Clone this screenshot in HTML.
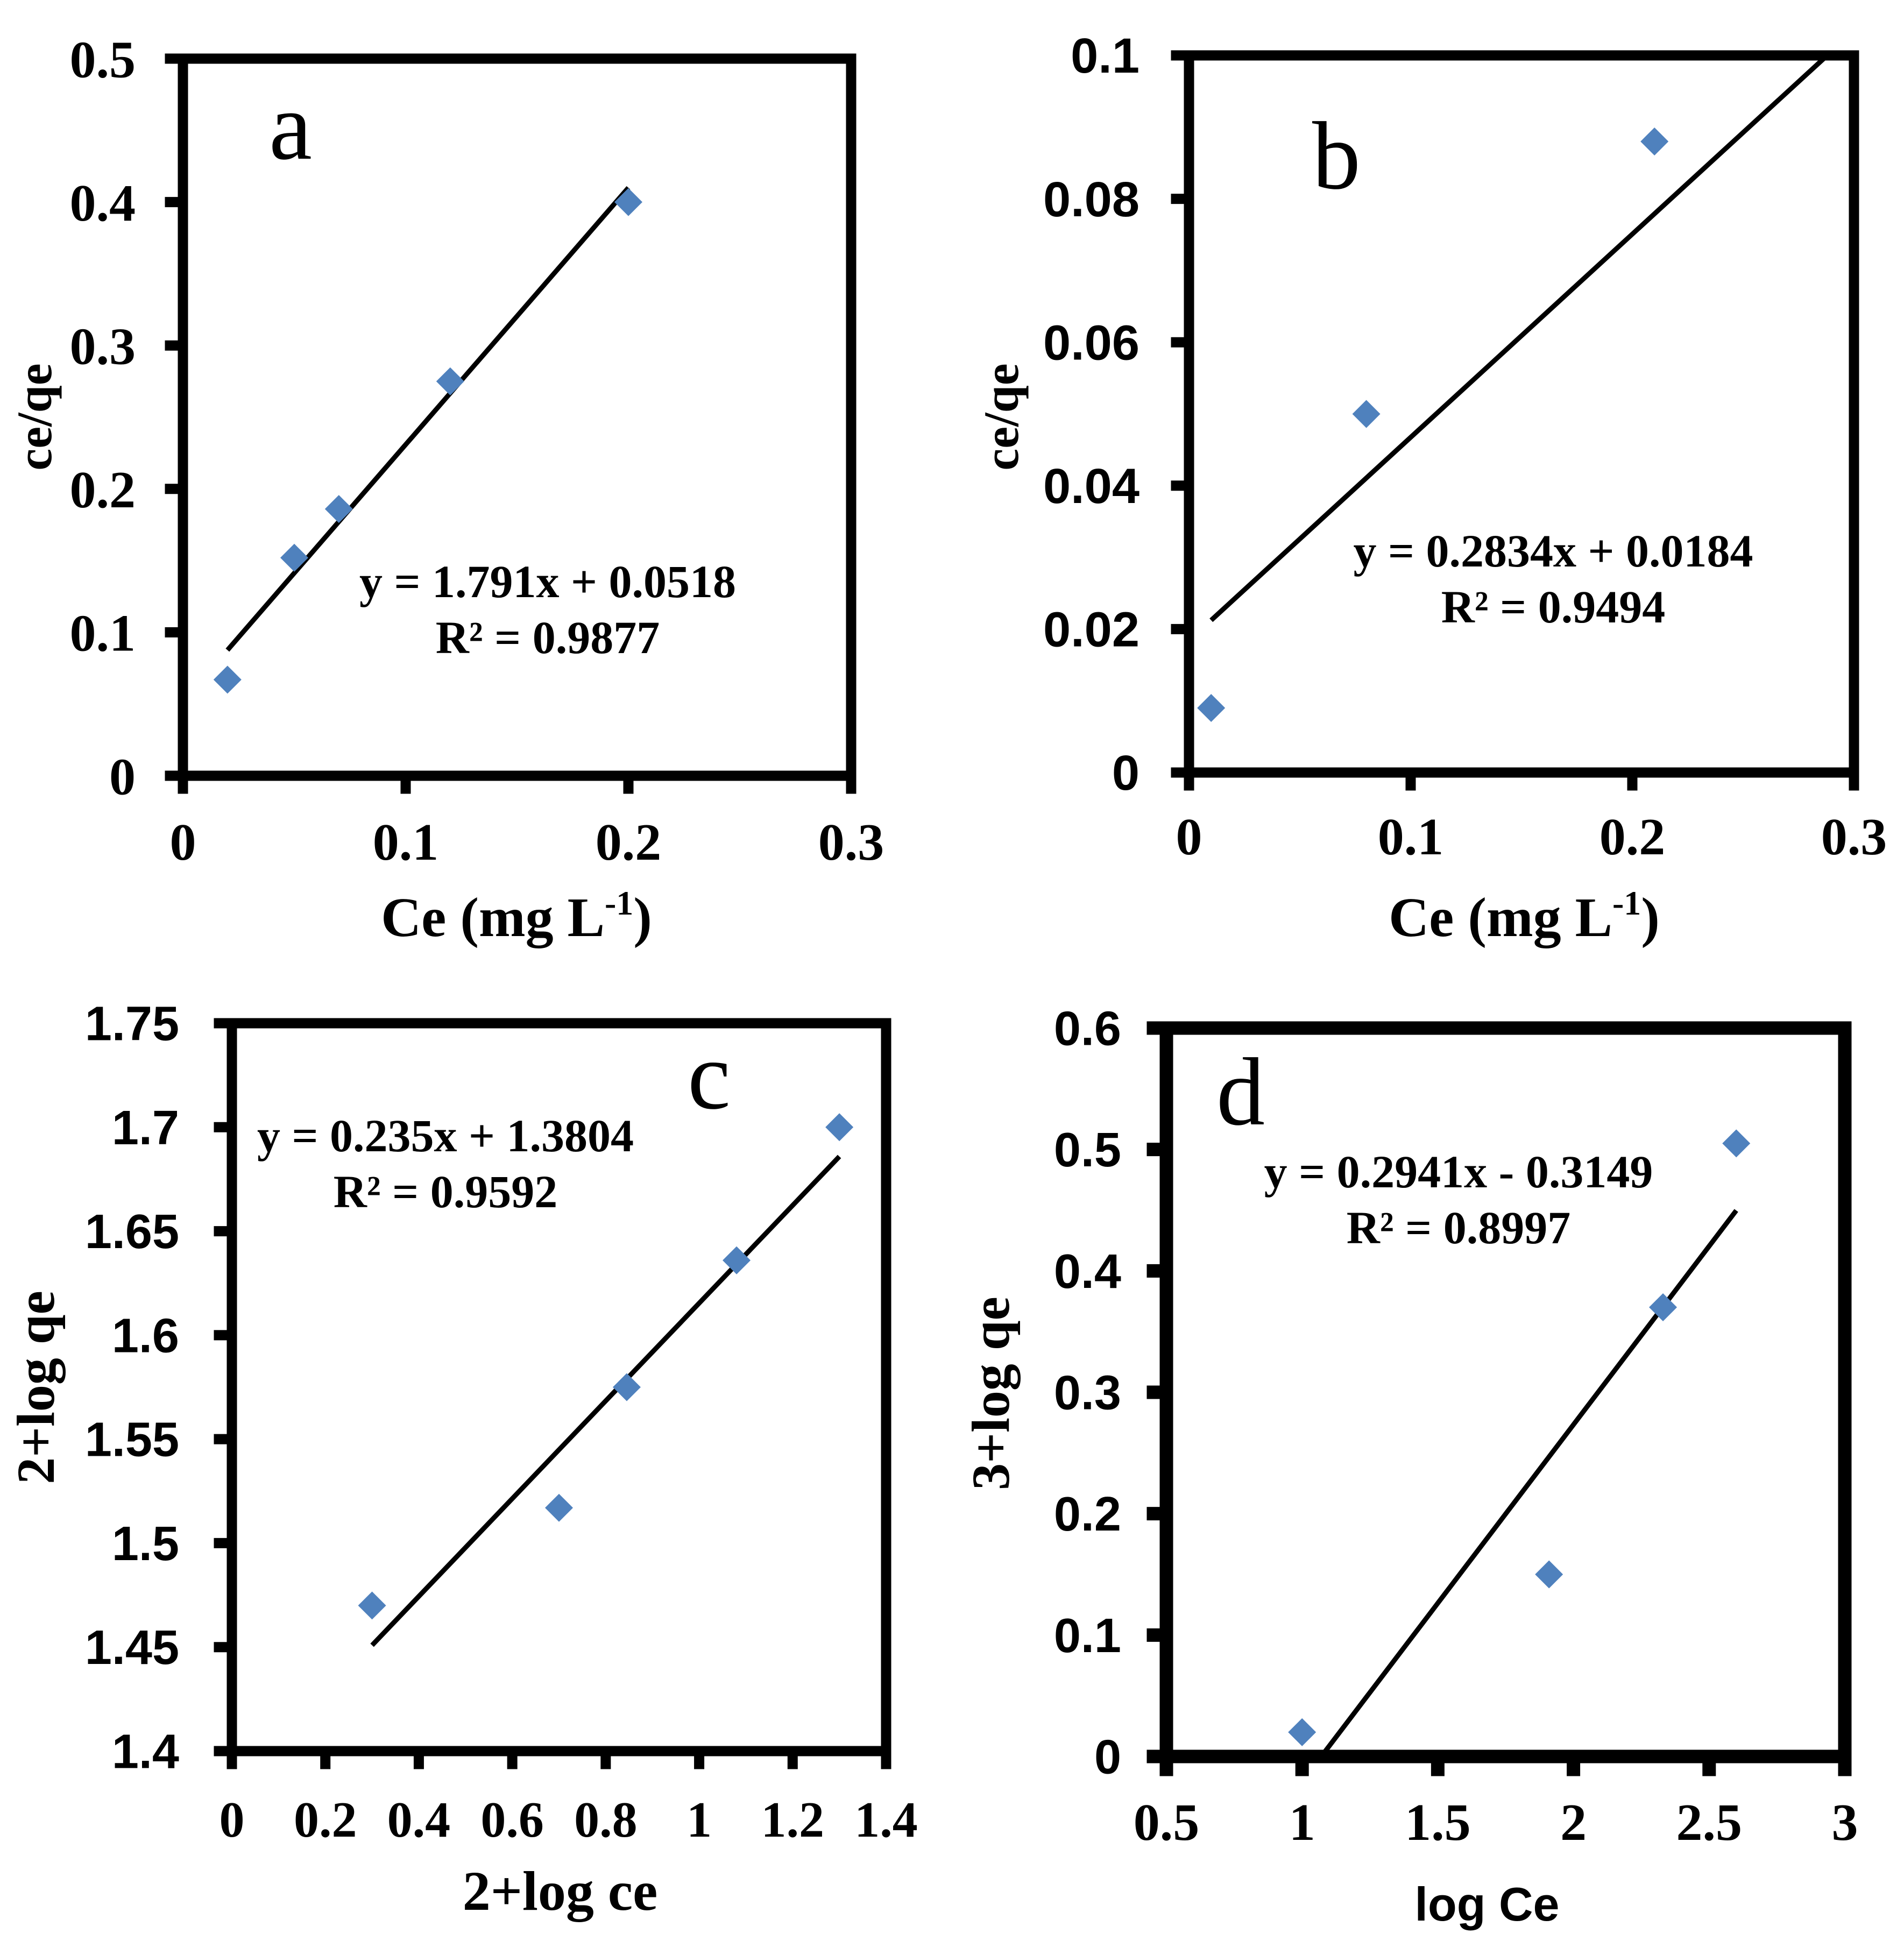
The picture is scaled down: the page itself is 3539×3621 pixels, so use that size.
<!DOCTYPE html>
<html><head><meta charset="utf-8">
<style>
html,body{margin:0;padding:0;background:#fff;}
svg{display:block;}
.serif{font-family:"Liberation Serif",serif;font-weight:bold;}
.sans{font-family:"Liberation Sans",sans-serif;font-weight:bold;}
</style></head>
<body>
<svg id="fig" width="3539" height="3621" viewBox="0 0 3539 3621" xmlns="http://www.w3.org/2000/svg"></svg>
<script>
// ---- Panel a data ----
const aX = [0.02, 0.05, 0.07, 0.12, 0.2];
const aY = [0.067, 0.152, 0.186, 0.275, 0.4];
const aXTicks = ["0","0.1","0.2","0.3"];
const aYTicks = ["0","0.1","0.2","0.3","0.4","0.5"];
const aFit = [1.791, 0.0518];
// ---- Panel b data ----
const bX = [0.01, 0.08, 0.21];
const bY = [0.009, 0.05, 0.088];
const bXTicks = ["0","0.1","0.2","0.3"];
const bYTicks = ["0","0.02","0.04","0.06","0.08","0.1"];
const bFit = [0.2834, 0.0184];
// ---- Panel c data ----
const cX = [0.3, 0.7, 0.845, 1.08, 1.3];
const cY = [1.47, 1.517, 1.575, 1.636, 1.70];
const cXTicks = ["0","0.2","0.4","0.6","0.8","1","1.2","1.4"];
const cYTicks = ["1.4","1.45","1.5","1.55","1.6","1.65","1.7","1.75"];
const cFit = [0.235, 1.3804];
// ---- Panel d data ----
const dX = [1, 1.91, 2.33, 2.6];
const dY = [0.02, 0.15, 0.37, 0.505];
const dXTicks = ["0.5","1","1.5","2","2.5","3"];
const dYTicks = ["0","0.1","0.2","0.3","0.4","0.5","0.6"];
const dFit = [0.2941, -0.3149];

const NS = "http://www.w3.org/2000/svg";
const svg = document.getElementById('fig');
function mk(tag, attrs, parent){
  const e = document.createElementNS(NS, tag);
  for (const k in attrs) e.setAttribute(k, attrs[k]);
  (parent||svg).appendChild(e);
  return e;
}

function panel(cfg){
  const g = mk('g', {});
  
  
  const {L,R,T,B,xmin,xmax,ymin,ymax,lw} = cfg;
  const sx = v => L + (v - xmin) / (xmax - xmin) * (R - L);
  const sy = v => B - (v - ymin) / (ymax - ymin) * (B - T);
  const fr = mk('rect', {x:L, y:T, width:R-L, height:B-T, fill:'none', stroke:'#000', 'stroke-width':lw}, g);
  
  
  cfg.xt.forEach(t => {
    const x = sx(parseFloat(t));
    const tk = mk('line', {x1:x, x2:x, y1:B, y2:B+lw/2+24, stroke:'#000', 'stroke-width':lw}, g);
    
    
    const tx = mk('text', {x:x, y:cfg.xlY, 'text-anchor':'middle', 'font-size':cfg.xfs, class:cfg.xfont}, g);
    tx.textContent = t;
    
    
  });
  cfg.yt.forEach(t => {
    const y = sy(parseFloat(t));
    const tk = mk('line', {x1:L-lw/2-24, x2:L, y1:y, y2:y, stroke:'#000', 'stroke-width':lw}, g);
    
    
    const tx = mk('text', {x:cfg.ylX, y:y + cfg.yfs*0.35, 'text-anchor':'end', 'font-size':cfg.yfs, class:cfg.yfont}, g);
    tx.textContent = t;
    
    
  });
  const [m, c0] = cfg.fit;
  const tl = mk('line', {x1:sx(cfg.fx0), y1:sy(m*cfg.fx0+c0), x2:sx(cfg.fx1), y2:sy(m*cfg.fx1+c0), stroke:'#000', 'stroke-width':9}, g);
  
  
  cfg.xs.forEach((v,i) => {
    const px = sx(v), py = sy(cfg.ys[i]), r = 26;
    const p = mk('polygon', {points:`${px},${py-r} ${px+r},${py} ${px},${py+r} ${px-r},${py}`, fill:'#4F81BD'}, g);
    
    
  });
  const e1 = mk('text', {x:cfg.eqX, y:cfg.eqY, 'text-anchor':'middle', 'font-size':86, class:'serif'}, g);
  e1.textContent = cfg.eq;
  
  
  const e2 = mk('text', {x:cfg.eqX, y:cfg.eqY+104, 'text-anchor':'middle', 'font-size':86, class:'serif'}, g);
  e2.textContent = cfg.r2;
  
  
  const pl = mk('text', {x:cfg.letX, y:cfg.letY, 'text-anchor':'middle', 'font-size':180, style:'font-family:"Liberation Serif",serif;font-weight:normal'}, g);
  pl.textContent = cfg.id;
  
  
  const xt = mk('text', {x:cfg.xtX, y:cfg.xtY, 'text-anchor':'middle', 'font-size':cfg.xtfs, class:cfg.xtfont}, g);
  if (cfg.xtSup) {
    xt.appendChild(document.createTextNode(cfg.xtitle));
    const ts = mk('tspan', {'font-size':64, dy:-40}, xt);
    ts.textContent = '-1';
    const ts2 = mk('tspan', {dy:40}, xt);
    ts2.textContent = ')';
  } else xt.textContent = cfg.xtitle;
  
  
  const yt = mk('text', {x:0, y:0, 'text-anchor':'middle', 'font-size':cfg.ytfs, class:'serif', transform:`translate(${cfg.ytX},${cfg.ytY}) rotate(-90)`}, g);
  yt.textContent = cfg.ytitle;
  
  
}

panel({id:'a', L:340,R:1582,T:109,B:1442, xmin:0,xmax:0.3,ymin:0,ymax:0.5, lw:19,
  xt:aXTicks, yt:aYTicks, xs:aX, ys:aY, fit:aFit, fx0:0.02, fx1:0.2,
  xlY:1598, xfs:98, xfont:'serif', ylX:252, yfs:98, yfont:'serif',
  eq:'y = 1.791x + 0.0518', r2:'R² = 0.9877', eqX:1018, eqY:1110,
  letX:540, letY:295, xtitle:'Ce (mg L', xtSup:true, xtX:960, xtY:1740, xtfs:104, xtfont:'serif',
  ytitle:'ce/qe', ytX:95, ytY:775, ytfs:92});

panel({id:'b', L:2210,R:3446,T:103,B:1436, xmin:0,xmax:0.3,ymin:0,ymax:0.1, lw:19,
  xt:bXTicks, yt:bYTicks, xs:bX, ys:bY, fit:bFit, fx0:0.01, fx1:0.2879,
  xlY:1588, xfs:98, xfont:'serif', ylX:2118, yfs:92, yfont:'sans',
  eq:'y = 0.2834x + 0.0184', r2:'R² = 0.9494', eqX:2887, eqY:1053,
  letX:2484, letY:350, xtitle:'Ce (mg L', xtSup:true, xtX:2833, xtY:1740, xtfs:104, xtfont:'serif',
  ytitle:'ce/qe', ytX:1892, ytY:775, ytfs:92});

panel({id:'c', L:431,R:1647,T:1902,B:3255, xmin:0,xmax:1.4,ymin:1.4,ymax:1.75, lw:19,
  xt:cXTicks, yt:cYTicks, xs:cX, ys:cY, fit:cFit, fx0:0.3, fx1:1.3,
  xlY:3414, xfs:94, xfont:'serif', ylX:333, yfs:90, yfont:'sans',
  eq:'y = 0.235x + 1.3804', r2:'R² = 0.9592', eqX:828, eqY:2140,
  letX:1318, letY:2060, xtitle:'2+log ce', xtSup:false, xtX:1041, xtY:3550, xtfs:104, xtfont:'serif',
  ytitle:'2+log qe', ytX:100, ytY:2579, ytfs:100});

panel({id:'d', L:2168,R:3429,T:1911,B:3265, xmin:0.5,xmax:3,ymin:0,ymax:0.6, lw:25,
  xt:dXTicks, yt:dYTicks, xs:dX, ys:dY, fit:dFit, fx0:1.0707, fx1:2.6,
  xlY:3420, xfs:98, xfont:'serif', ylX:2084, yfs:90, yfont:'sans',
  eq:'y = 0.2941x - 0.3149', r2:'R² = 0.8997', eqX:2711, eqY:2207,
  letX:2306, letY:2090, xtitle:'log Ce', xtSup:false, xtX:2764, xtY:3570, xtfs:88, xtfont:'sans',
  ytitle:'3+log qe', ytX:1875, ytY:2590, ytfs:100});
</script>
</body></html>
